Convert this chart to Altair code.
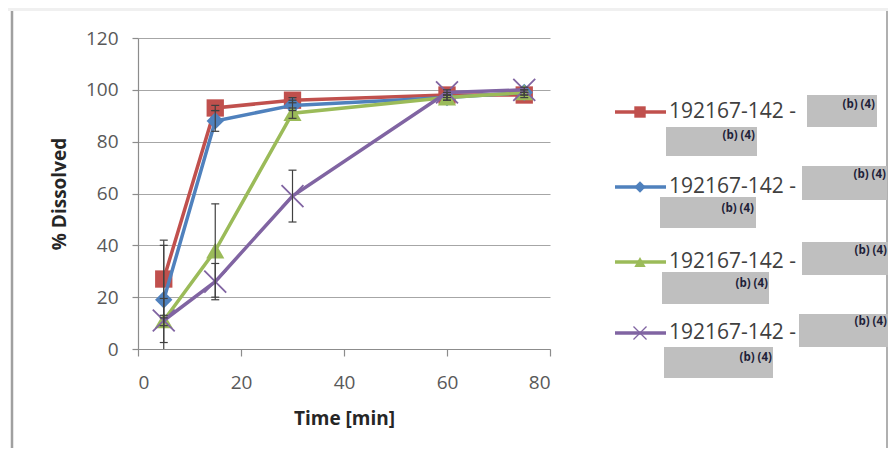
import altair as alt
import pandas as pd

# ---- data ----
time_min = [5, 15, 30, 60, 75]
series_names = ["A", "B", "C", "D"]
red_vals = [27, 93, 96, 98, 98]
blue_vals = [19, 88, 94, 97, 99]
green_vals = [11, 38, 91, 97, 99]
purple_vals = [11, 26, 59, 99, 100]
red_err = [15, 1, 1, 1, 1]
blue_err = [21, 4, 2, 1, 1]
green_err = [8.5, 18, 2, 1, 1]
purple_err = [2, 7, 10, 1, 1]
legend_label = "192167-142 -"
redaction_text = "(b) (4)"
x_ticks = [0, 20, 40, 60, 80]
y_ticks = [0, 20, 40, 60, 80, 100, 120]

colors = ["#C0504D", "#4F81BD", "#9BBB59", "#8064A2"]
values = [red_vals, blue_vals, green_vals, purple_vals]
errs = [red_err, blue_err, green_err, purple_err]

rows = []
for name, vals, er in zip(series_names, values, errs):
    for t, v, e in zip(time_min, vals, er):
        rows.append({"series": name, "time": t, "val": v, "lo": v - e, "hi": v + e})
df = pd.DataFrame(rows)

FONT = "Open Sans"
W, H = 412, 311
xs = alt.Scale(domain=[0, 80], nice=False)
ys = alt.Scale(domain=[0, 120], nice=False)

x_enc = alt.X("time:Q", scale=xs,
              axis=alt.Axis(values=x_ticks, title="Time [min]", grid=False,
                            tickSize=7, labelPadding=17, titlePadding=17,
                            labelFontSize=19, titleFontSize=19))
y_enc = alt.Y("val:Q", scale=ys,
              axis=alt.Axis(values=y_ticks, title="% Dissolved", grid=True,
                            tickSize=6, labelPadding=14, titlePadding=16,
                            labelFontSize=19, titleFontSize=19))

X_CROSS = "M-1,-1L1,1M-1,1L1,-1"
shapes = ["square", "diamond", "triangle-up", X_CROSS]
sizes = [300, 300, 330, 480]

layers = []
for name, col, shp, sz in zip(series_names, colors, shapes, sizes):
    sub = df[df.series == name]
    base = alt.Chart(sub)
    layers.append(base.mark_line(color=col, strokeWidth=3.5).encode(x=x_enc, y=y_enc))
    if shp == X_CROSS:
        pt = base.mark_point(shape=shp, size=sz, filled=False, color=col,
                             strokeWidth=1.8, opacity=1)
    else:
        pt = base.mark_point(shape=shp, size=sz, filled=True, color=col, opacity=1)
    layers.append(pt.encode(x="time:Q", y="val:Q"))

for name in series_names:
    sub = df[df.series == name]
    base = alt.Chart(sub)
    layers.append(base.mark_rule(color="#404040", strokeWidth=1.2, clip=True)
                  .encode(x="time:Q", y="lo:Q", y2="hi:Q"))
    for f in ["lo", "hi"]:
        layers.append(base.mark_rule(color="#404040", strokeWidth=1.2, clip=True,
                                     xOffset=-4, x2Offset=4)
                      .encode(x="time:Q", x2="time:Q", y=f"{f}:Q"))

# ---- hand-drawn legend with redaction boxes (page layout in plot px) ----
OX, OY = 138, 38  # plot origin on the page
one = pd.DataFrame({"k": [0]})
legend_layout = [
    # line_y, box1 (x1,y1,x2,y2), text1 (right,y), box2, text2
    (112, (807, 95, 877, 127), (875, 105), (666, 127, 757, 156), (755, 136)),
    (187, (802, 166, 887, 200), (886, 175), (660, 197, 756, 228), (754, 209)),
    (262, (802, 242, 889, 275), (887, 251), (662, 272, 769, 304), (768, 284)),
    (333, (799, 314, 900, 347), (887, 322), (664, 347, 773, 378), (772, 358)),
]
lsizes = [130, 130, 130, 170]
for (ly, b1, t1, b2, t2), col, shp, sz in zip(legend_layout, colors, shapes, lsizes):
    c = alt.Chart(one)
    layers.append(c.mark_rule(color=col, strokeWidth=3.5).encode(
        x=alt.value(615 - OX), x2=alt.value(666 - OX), y=alt.value(ly - OY)))
    if shp == X_CROSS:
        m = c.mark_point(shape=shp, size=sz, filled=False, color=col, strokeWidth=1.3, opacity=1)
    else:
        m = c.mark_point(shape=shp, size=sz, filled=True, color=col, opacity=1)
    layers.append(m.encode(x=alt.value(640 - OX), y=alt.value(ly - OY)))
    layers.append(c.mark_text(text=legend_label, font=FONT, fontSize=21, color="#404040",
                              align="left", baseline="middle").encode(
        x=alt.value(669 - OX), y=alt.value(ly - OY)))
    for (bx1, by1, bx2, by2), (tx, ty) in [(b1, t1), (b2, t2)]:
        layers.append(c.mark_rect(color="#BFBFBF").encode(
            x=alt.value(bx1 - OX), x2=alt.value(bx2 - OX),
            y=alt.value(by1 - OY), y2=alt.value(by2 - OY)))
        layers.append(c.mark_text(text=redaction_text, font=FONT, fontSize=11.5,
                                  fontWeight="bold", color="#1F1F3A",
                                  align="right", baseline="middle").encode(
            x=alt.value(tx - OX), y=alt.value(ty - OY)))

# ---- page frame: top strip and side borders ----
c = alt.Chart(one)
frame = [
    c.mark_rect(color="#F0F0F0").encode(x=alt.value(-OX), x2=alt.value(900 - OX),
                                        y=alt.value(-30), y2=alt.value(11 - OY)),
    c.mark_rule(color="#A0A0A0", strokeWidth=2.5).encode(
        x=alt.value(12 - OX), y=alt.value(11 - OY), y2=alt.value(460 - OY)),
    c.mark_rule(color="#B0B0B0", strokeWidth=2).encode(
        x=alt.value(887 - OX), y=alt.value(11 - OY), y2=alt.value(460 - OY)),
]

chart = alt.layer(*frame, *layers).properties(
    width=W, height=H,
    autosize=alt.AutoSizeParams(type="none"),
    padding={"left": 130, "top": 30, "right": 338, "bottom": 99},
    background="white",
).configure_view(stroke=None).configure_axis(
    labelFont=FONT, titleFont=FONT, labelColor="#595959", titleColor="#262626",
    titleFontWeight="bold", domainColor="#8C8C8C", tickColor="#8C8C8C",
    gridColor="#A6A6A6", gridWidth=1.2, domainWidth=1.2, tickWidth=1.2,
)

chart.save("out.html", embed_options={"renderer": "svg", "actions": False})
